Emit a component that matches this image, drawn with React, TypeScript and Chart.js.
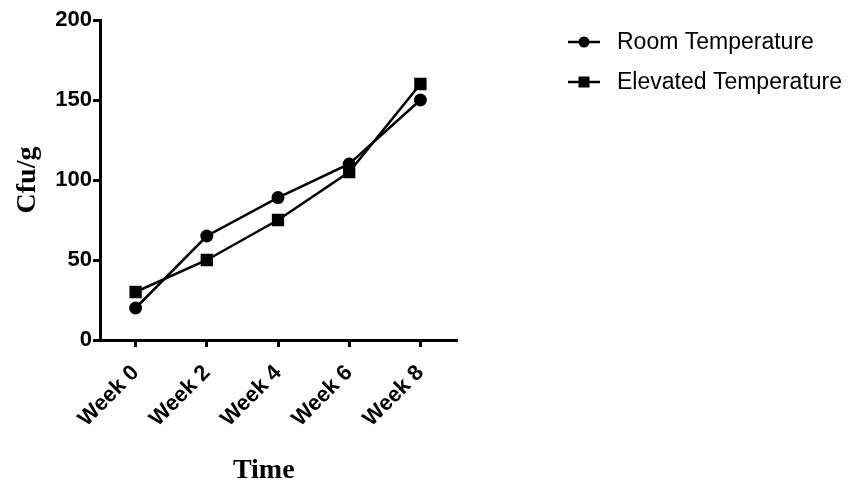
import React, { useEffect, useRef } from "react";
import { Chart, registerables } from "chart.js";

Chart.register(...registerables);

const weeks = ["Week 0", "Week 2", "Week 4", "Week 6", "Week 8"];
const roomTemp = [20, 65, 89, 110, 150];
const elevatedTemp = [30, 50, 75, 105, 160];
const seriesNames = ["Room Temperature", "Elevated Temperature"];
const yTicks = [0, 50, 100, 150, 200];
const xTitle = "Time";
const yTitle = "Cfu/g";

const legendAndTitlePlugin = {
  id: "legendAndTitle",
  afterDraw(chart: any) {
    const ctx = chart.ctx;
    const area = chart.chartArea;
    ctx.save();
    // x-axis title
    ctx.fillStyle = "#000";
    ctx.font = "bold 28px 'Liberation Serif', 'Times New Roman', serif";
    ctx.textAlign = "center";
    ctx.textBaseline = "alphabetic";
    ctx.fillText(xTitle, area.left + (area.right - area.left) * 0.46, 478);

    // legend
    const rows = [42, 82];
    chart.data.datasets.forEach((ds: any, i: number) => {
      const y = rows[i];
      ctx.strokeStyle = "#000";
      ctx.lineWidth = 2.5;
      ctx.beginPath();
      ctx.moveTo(568, y);
      ctx.lineTo(600, y);
      ctx.stroke();
      ctx.fillStyle = "#000";
      if (ds.pointStyle === "rect") {
        ctx.fillRect(584 - 5.5, y - 5.5, 11, 11);
      } else {
        ctx.beginPath();
        ctx.arc(584, y, 5.5, 0, Math.PI * 2);
        ctx.fill();
      }
      ctx.font = "23px 'Liberation Sans', Arial, sans-serif";
      ctx.textAlign = "left";
      ctx.textBaseline = "middle";
      ctx.fillText(ds.label, 617, y + 1);
    });
    ctx.restore();
  },
};

export default function App() {
  const canvasRef = useRef<HTMLCanvasElement | null>(null);

  useEffect(() => {
    if (!canvasRef.current) return;
    const chart = new Chart(canvasRef.current, {
      type: "line",
      data: {
        labels: weeks,
        datasets: [
          {
            label: seriesNames[0],
            data: roomTemp,
            borderColor: "#000",
            backgroundColor: "#000",
            borderWidth: 2.5,
            pointStyle: "circle",
            pointRadius: 6.5,
            pointBorderWidth: 0,
            tension: 0,
          },
          {
            label: seriesNames[1],
            data: elevatedTemp,
            borderColor: "#000",
            backgroundColor: "#000",
            borderWidth: 2.5,
            pointStyle: "rect",
            pointRadius: 8.7,
            pointBorderWidth: 0,
            tension: 0,
          },
        ],
      },
      options: {
        responsive: false,
        animation: false,
        layout: { padding: { left: 0, top: 20, right: 392, bottom: 0 } },
        plugins: {
          legend: { display: false },
          tooltip: { enabled: false },
        },
        scales: {
          x: {
            type: "category",
            offset: true,
            grid: {
              drawOnChartArea: false,
              drawTicks: true,
              tickLength: 7,
              color: "#000",
              lineWidth: 3,
              offset: false,
            },
            border: { display: true, color: "#000", width: 3 },
            ticks: {
              color: "#000",
              minRotation: 45,
              maxRotation: 45,
              padding: 13,
              font: { family: "'Liberation Sans', Arial, sans-serif", size: 22, weight: "bold" },
            },
            afterFit: (scale: any) => {
              scale.height = 141;
            },
          },
          y: {
            type: "linear",
            min: 0,
            max: 200,
            afterBuildTicks: (scale: any) => {
              scale.ticks = yTicks.map((v) => ({ value: v }));
            },
            grid: {
              drawOnChartArea: false,
              drawTicks: true,
              tickLength: 7,
              color: "#000",
              lineWidth: 3,
            },
            border: { display: true, color: "#000", width: 3 },
            ticks: {
              color: "#000",
              padding: 1,
              font: { family: "'Liberation Sans', Arial, sans-serif", size: 22, weight: "bold" },
            },
            title: {
              display: true,
              text: yTitle,
              color: "#000",
              padding: { top: 11, bottom: 0 },
              font: { family: "'Liberation Serif', 'Times New Roman', serif", size: 28, weight: "bold" },
            },
            afterFit: (scale: any) => {
              scale.width = 100;
            },
          },
        },
      },
      plugins: [legendAndTitlePlugin],
    } as any);
    return () => chart.destroy();
  }, []);

  return (
    <canvas
      ref={canvasRef}
      width={848}
      height={481}
      style={{ position: "absolute", left: 0, top: 0, width: 848, height: 481, background: "#fff" }}
    />
  );
}
